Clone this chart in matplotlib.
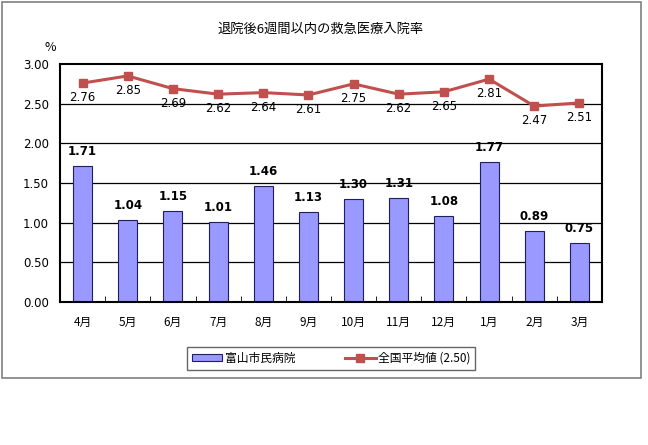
import matplotlib
matplotlib.use("Agg")
import matplotlib.pyplot as plt
from matplotlib.patches import Rectangle
from matplotlib.lines import Line2D
from matplotlib.patches import Patch
import numpy as np

plt.rcParams['font.family'] = ['Noto Sans CJK JP', 'DejaVu Sans']

months = ["4月", "5月", "6月", "7月", "8月", "9月", "10月", "11月", "12月", "1月", "2月", "3月"]
hospital = [1.71, 1.04, 1.15, 1.01, 1.46, 1.13, 1.30, 1.31, 1.08, 1.77, 0.89, 0.75]
national = [2.76, 2.85, 2.69, 2.62, 2.64, 2.61, 2.75, 2.62, 2.65, 2.81, 2.47, 2.51]
yticks = [0.0, 0.5, 1.0, 1.5, 2.0, 2.5, 3.0]
title = "退院後6週間以内の救急医療入院率"
legend_labels = ["富山市民病院", "全国平均値 (2.50)"]

fig = plt.figure(figsize=(6.48, 4.45), dpi=100)
fig.patches.append(Rectangle((0.003, 0.1506), 0.986, 0.845, transform=fig.transFigure,
                             fill=False, edgecolor="#808080", linewidth=1.2))

ax = fig.add_axes([0.0926, 0.3213, 0.8364, 0.5348])
x = np.arange(len(months))
bar_color = "#9999FF"
line_color = "#C0504D"

for yv in yticks[1:-1]:
    ax.axhline(yv, color="black", linewidth=0.9, zorder=0)

ax.bar(x, hospital, width=0.42, color=bar_color, edgecolor="#1F1F5F", linewidth=0.8, zorder=2)
ax.plot(x, national, color=line_color, linewidth=2.2, marker="s", markersize=6,
        markerfacecolor=line_color, markeredgecolor=line_color, zorder=3)

for xi, v in zip(x, hospital):
    ax.text(xi, v + 0.1, f"{v:.2f}", ha="center", va="bottom", fontsize=8.5,
            fontweight="bold", family="DejaVu Sans", zorder=4)
for xi, v in zip(x, national):
    ax.text(xi, v - 0.1, f"{v:.2f}", ha="center", va="top", fontsize=8.5,
            family="DejaVu Sans", zorder=4)

ax.set_xlim(-0.5, len(months) - 0.5)
ax.set_ylim(0, 3.0)
ax.set_yticks(yticks)
ax.set_yticklabels([f"{v:.2f}" for v in yticks], fontsize=8.5, family="DejaVu Sans")
ax.tick_params(axis="y", length=0, pad=8)
ax.set_xticks(x)
ax.set_xticklabels(months, fontsize=8.5)
ax.tick_params(axis="x", length=0, pad=10)
ax.set_xticks(np.arange(-0.5, len(months), 1.0), minor=True)
ax.tick_params(axis="x", which="minor", direction="in", length=4, color="black")
for s in ax.spines.values():
    s.set_linewidth(1.5)
    s.set_color("black")

fig.text(0.494, 0.933, title, ha="center", va="center", fontsize=9.5)
fig.text(0.077, 0.893, "%", ha="center", va="center", fontsize=9)

handles = [Patch(facecolor=bar_color, edgecolor="#1F1F5F", linewidth=0.8),
           Line2D([0], [0], color=line_color, linewidth=2.2, marker="s", markersize=6)]
leg = fig.legend(handles, legend_labels, loc="center", bbox_to_anchor=(0.511, 0.1945),
                 ncol=2, fontsize=8.5, frameon=True, fancybox=False, edgecolor="#404040",
                 handlelength=2.6, handleheight=0.5, columnspacing=4.2, borderpad=0.4,
                 handletextpad=0.2, borderaxespad=0)
leg.get_frame().set_linewidth(1.0)
for t in leg.get_texts():
    t.set_x(0)

fig.savefig("out.png", dpi=100, facecolor="white")
